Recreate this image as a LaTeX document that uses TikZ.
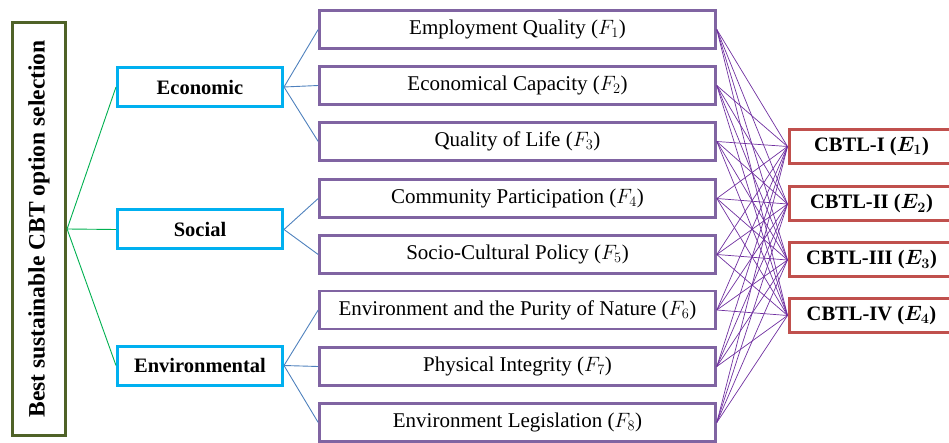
\documentclass[tikz,border=0pt]{standalone}
\usepackage{graphicx}
\usepackage{fontspec}
\setmainfont{Liberation Serif}
\definecolor{goalgreen}{HTML}{4F6228}
\definecolor{linkgreen}{HTML}{00B050}
\definecolor{catcyan}{HTML}{00B0F0}
\definecolor{linkblue}{HTML}{4F81BD}
\definecolor{facpurple}{HTML}{8064A2}
\definecolor{linkpurple}{HTML}{7030A0}
\definecolor{altred}{HTML}{C0504D}
\begin{document}
\begin{tikzpicture}[x=1pt,y=-1pt,
  goalbox/.style={draw=goalgreen, line width=3.2pt, fill=white, inner sep=0pt,
    minimum width=53pt, minimum height=413pt,
    font=\fontsize{23.5}{28}\selectfont\bfseries},
  catbox/.style={draw=catcyan, line width=3pt, fill=white, inner sep=0pt,
    minimum width=165pt, minimum height=39pt,
    font=\fontsize{20.5}{24}\selectfont\bfseries},
  facbox/.style={draw=facpurple, line width=2.6pt, fill=white, inner sep=0pt,
    minimum width=396pt, minimum height=38pt,
    font=\fontsize{21}{25}\selectfont},
  altbox/.style={draw=altred, line width=3pt, fill=white, inner sep=0pt,
    minimum width=165pt, minimum height=34pt,
    font=\fontsize{20.5}{24}\selectfont\bfseries\boldmath},
  glink/.style={draw=linkgreen, line width=0.9pt},
  blink/.style={draw=linkblue, line width=0.9pt},
  plink/.style={draw=linkpurple, line width=0.7pt}]
\useasboundingbox (0,0) rectangle (949,443);

% goal
\node[goalbox] (goal) at (39,229) {\rotatebox{90}{Best sustainable CBT option selection}};

% criteria
\node[catbox] (eco) at (200,87) {Economic};
\node[catbox] (soc) at (200,229.5) {Social};
\node[catbox] (env) at (200,365.5) {Environmental};

% sub-criteria
\node[facbox] (f1) at (517.5,29.5) {Employment Quality ($F_1$)};
\node[facbox] (f2) at (517.5,85.5) {Economical Capacity ($F_2$)};
\node[facbox] (f3) at (517.5,141.5) {Quality of Life ($F_3$)};
\node[facbox] (f4) at (517.5,198.5) {Community Participation ($F_4$)};
\node[facbox] (f5) at (517.5,254.5) {Socio-Cultural Policy ($F_5$)};
\node[facbox] (f6) at (517.5,310) {Environment and the Purity of Nature ($F_6$)};
\node[facbox] (f7) at (517.5,366.5) {Physical Integrity ($F_7$)};
\node[facbox] (f8) at (517.5,422.5) {Environment Legislation ($F_8$)};

% alternatives
\node[altbox] (e1) at (871.5,146.5) {CBTL-I ($E_1$)};
\node[altbox] (e2) at (871.5,204) {CBTL-II ($E_2$)};
\node[altbox] (e3) at (871.5,260) {CBTL-III ($E_3$)};
\node[altbox] (e4) at (871.5,315.5) {CBTL-IV ($E_4$)};

% links between the levels
\foreach \c in {eco,soc,env} \draw[glink] (goal.east) -- (\c.west);
\foreach \f in {f1,f2,f3} \draw[blink] (eco.east) -- (\f.west);
\foreach \f in {f4,f5} \draw[blink] (soc.east) -- (\f.west);
\foreach \f in {f6,f7,f8} \draw[blink] (env.east) -- (\f.west);
\foreach \f in {f1,f2,f3,f4,f5,f6,f7,f8}
  \foreach \e in {e1,e2,e3,e4}
    \draw[plink] (\f.east) -- (\e.west);
\end{tikzpicture}
\end{document}
